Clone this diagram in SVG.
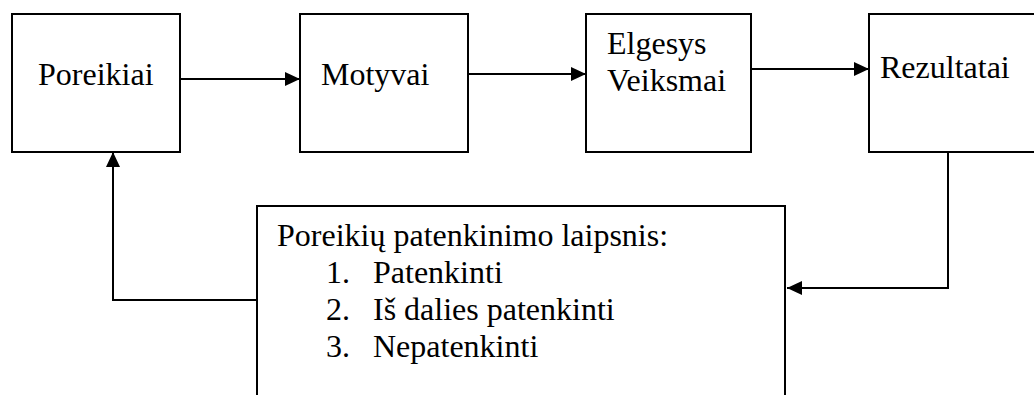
<svg xmlns="http://www.w3.org/2000/svg" width="1034" height="395" viewBox="0 0 1034 395">
  <style>
    .box { fill: #ffffff; stroke: #000000; stroke-width: 2; }
    .lbl { font-family: "Liberation Serif", "Times New Roman", serif; font-size: 32px; fill: #000000; }
    .wire { fill: none; stroke: #000000; stroke-width: 2; }
  </style>
  <defs>
    <marker id="head" markerWidth="15" markerHeight="14" refX="15" refY="7" orient="auto" markerUnits="userSpaceOnUse">
      <path d="M0,0 L15,7 L0,14 Z" fill="#000000"/>
    </marker>
  </defs>
  <rect width="1034" height="395" fill="#ffffff"/>

  <g id="node-poreikiai">
    <rect class="box" x="12" y="14" width="168" height="138"/>
    <text class="lbl" x="38" y="85">Poreikiai</text>
  </g>

  <g id="node-motyvai">
    <rect class="box" x="300" y="14" width="168" height="138"/>
    <text class="lbl" x="321" y="85">Motyvai</text>
  </g>

  <g id="node-elgesys">
    <rect class="box" x="586" y="14" width="165" height="138"/>
    <text class="lbl" x="607" y="54">Elgesys</text>
    <text class="lbl" x="607" y="91">Veiksmai</text>
  </g>

  <g id="node-rezultatai">
    <rect class="box" x="869" y="14" width="170" height="138"/>
    <text class="lbl" x="880" y="78">Rezultatai</text>
  </g>

  <g id="node-laipsnis">
    <rect class="box" x="257" y="206" width="528" height="200"/>
    <text class="lbl" x="277" y="246">Poreikių patenkinimo laipsnis:</text>
    <text class="lbl" x="326" y="283">1.</text>
    <text class="lbl" x="373" y="283">Patenkinti</text>
    <text class="lbl" x="326" y="320">2.</text>
    <text class="lbl" x="373" y="320">Iš dalies patenkinti</text>
    <text class="lbl" x="326" y="357">3.</text>
    <text class="lbl" x="373" y="357">Nepatenkinti</text>
  </g>

  <g id="connectors">
    <line class="wire" x1="180" y1="79" x2="300" y2="79" marker-end="url(#head)"/>
    <line class="wire" x1="468" y1="74" x2="586" y2="74" marker-end="url(#head)"/>
    <line class="wire" x1="751" y1="69" x2="869" y2="69" marker-end="url(#head)"/>
    <polyline class="wire" points="948,152 948,288 787,288" marker-end="url(#head)"/>
    <polyline class="wire" points="257,300 113,300 113,152" marker-end="url(#head)"/>
  </g>
</svg>
